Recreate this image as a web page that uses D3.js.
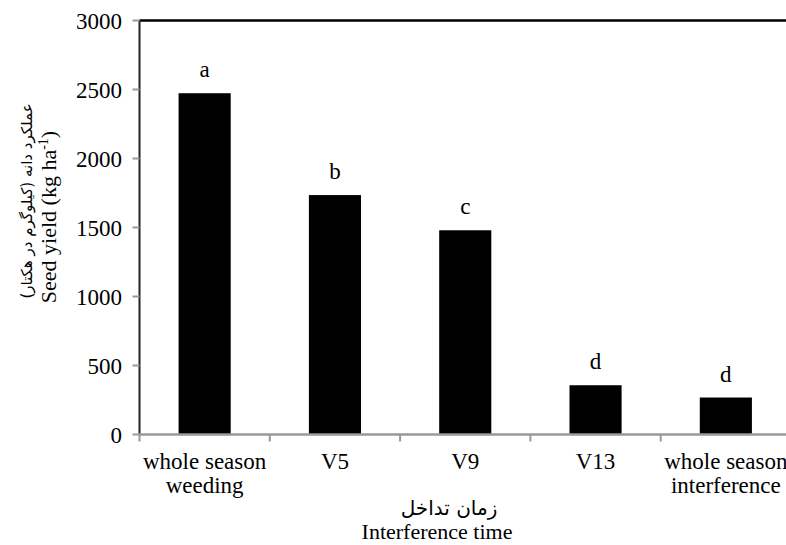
<!DOCTYPE html>
<html>
<head>
<meta charset="utf-8">
<script src="https://cdn.jsdelivr.net/npm/d3@7"></script>
<style>
  body { margin: 0; background: #fff; }
</style>
</head>
<body>
<div class="canvas"></div>
<script>
// Data
const categories = ["whole season weeding", "V5", "V9", "V13", "whole season interference"];
const categoryLines = [["whole season", "weeding"], ["V5"], ["V9"], ["V13"], ["whole season", "interference"]];
const yieldValues = [2473, 1735, 1480, 357, 268];
const groupLetters = ["a", "b", "c", "d", "d"];
const yTicks = [0, 500, 1000, 1500, 2000, 2500, 3000];

const width = 786, height = 545;
const serif = "'Liberation Serif', 'Times New Roman', serif";
const arabic = "'DejaVu Sans', sans-serif";

const svg = d3.select(".canvas")
    .append("svg")
    .attr("width", width)
    .attr("height", height);

// plot area edges
const plotLeft = 139.5, plotRight = 791, plotTop = 20.5, plotBottom = 434.5;

const x = d3.scaleBand()
    .domain(categories)
    .range([plotLeft, plotRight])
    .padding(0);

const y = d3.scaleLinear()
    .domain([0, 3000])
    .range([plotBottom, plotTop]);

const barWidth = x.bandwidth() * 0.4;

// Bars
svg.append("g")
    .selectAll("rect")
    .data(yieldValues)
    .enter().append("rect")
    .attr("x", (d, i) => x(categories[i]) + (x.bandwidth() - barWidth) / 2)
    .attr("y", d => y(d))
    .attr("width", barWidth)
    .attr("height", d => y(0) - y(d))
    .attr("fill", "#000");

// Letters over bars
svg.append("g")
    .selectAll("text")
    .data(yieldValues)
    .enter().append("text")
    .attr("x", (d, i) => x(categories[i]) + x.bandwidth() / 2)
    .attr("y", d => y(d) - 16)
    .attr("text-anchor", "middle")
    .attr("font-family", serif)
    .attr("font-size", 23)
    .text((d, i) => groupLetters[i]);

// Top border of plot area
svg.append("line")
    .attr("x1", plotLeft).attr("x2", width)
    .attr("y1", plotTop).attr("y2", plotTop)
    .attr("stroke", "#000")
    .attr("stroke-width", 2.5);

// Y axis
svg.append("line")
    .attr("x1", plotLeft).attr("x2", plotLeft)
    .attr("y1", plotTop).attr("y2", plotBottom)
    .attr("stroke", "#222")
    .attr("stroke-width", 2);

const yAxis = svg.append("g");
yAxis.selectAll("line")
    .data(yTicks)
    .enter().append("line")
    .attr("x1", plotLeft - 7).attr("x2", plotLeft)
    .attr("y1", d => y(d)).attr("y2", d => y(d))
    .attr("stroke", "#999")
    .attr("stroke-width", 2);
yAxis.selectAll("text")
    .data(yTicks)
    .enter().append("text")
    .attr("x", 122)
    .attr("y", d => y(d))
    .attr("dy", "0.35em")
    .attr("text-anchor", "end")
    .attr("font-family", serif)
    .attr("font-size", 23)
    .text(d => d);

// X axis
svg.append("line")
    .attr("x1", plotLeft - 1).attr("x2", width)
    .attr("y1", plotBottom).attr("y2", plotBottom)
    .attr("stroke", "#999")
    .attr("stroke-width", 2.5);

const boundaries = categories.map(c => x(c));
svg.append("g")
    .selectAll("line")
    .data(boundaries)
    .enter().append("line")
    .attr("x1", d => d).attr("x2", d => d)
    .attr("y1", plotBottom).attr("y2", plotBottom + 7)
    .attr("stroke", "#999")
    .attr("stroke-width", 2);

const xLabels = svg.append("g")
    .selectAll("text")
    .data(categories)
    .enter().append("text")
    .attr("x", d => x(d) + x.bandwidth() / 2)
    .attr("y", 469)
    .attr("text-anchor", "middle")
    .attr("font-family", serif)
    .attr("font-size", 23);
xLabels.selectAll("tspan")
    .data((d, i) => categoryLines[i])
    .enter().append("tspan")
    .attr("x", function () { return this.parentNode.getAttribute("x"); })
    .attr("dy", (d, j) => j === 0 ? 0 : 24)
    .text(d => d);

// X axis title (Persian + English)
svg.append("text")
    .attr("x", 449).attr("y", 515)
    .attr("text-anchor", "middle")
    .attr("direction", "rtl")
    .attr("font-family", arabic)
    .attr("font-size", 20)
    .text("زمان تداخل");
svg.append("text")
    .attr("x", 437).attr("y", 539)
    .attr("text-anchor", "middle")
    .attr("font-family", serif)
    .attr("font-size", 22)
    .text("Interference time");

// Y axis title (Persian + English)
svg.append("text")
    .attr("transform", "translate(32,201) rotate(-90)")
    .attr("text-anchor", "middle")
    .attr("direction", "rtl")
    .attr("font-family", arabic)
    .attr("font-size", 15)
    .text("عملکرد دانه (کیلوگرم در هکتار)");

const yTitle = svg.append("text")
    .attr("transform", "translate(56,217) rotate(-90)")
    .attr("text-anchor", "middle")
    .attr("font-family", serif)
    .attr("font-size", 22);
yTitle.append("tspan").text("Seed yield (kg ha");
yTitle.append("tspan").attr("dy", -8).attr("font-size", 14).text("-1");
yTitle.append("tspan").attr("dy", 8).text(")");
</script>
</body>
</html>
